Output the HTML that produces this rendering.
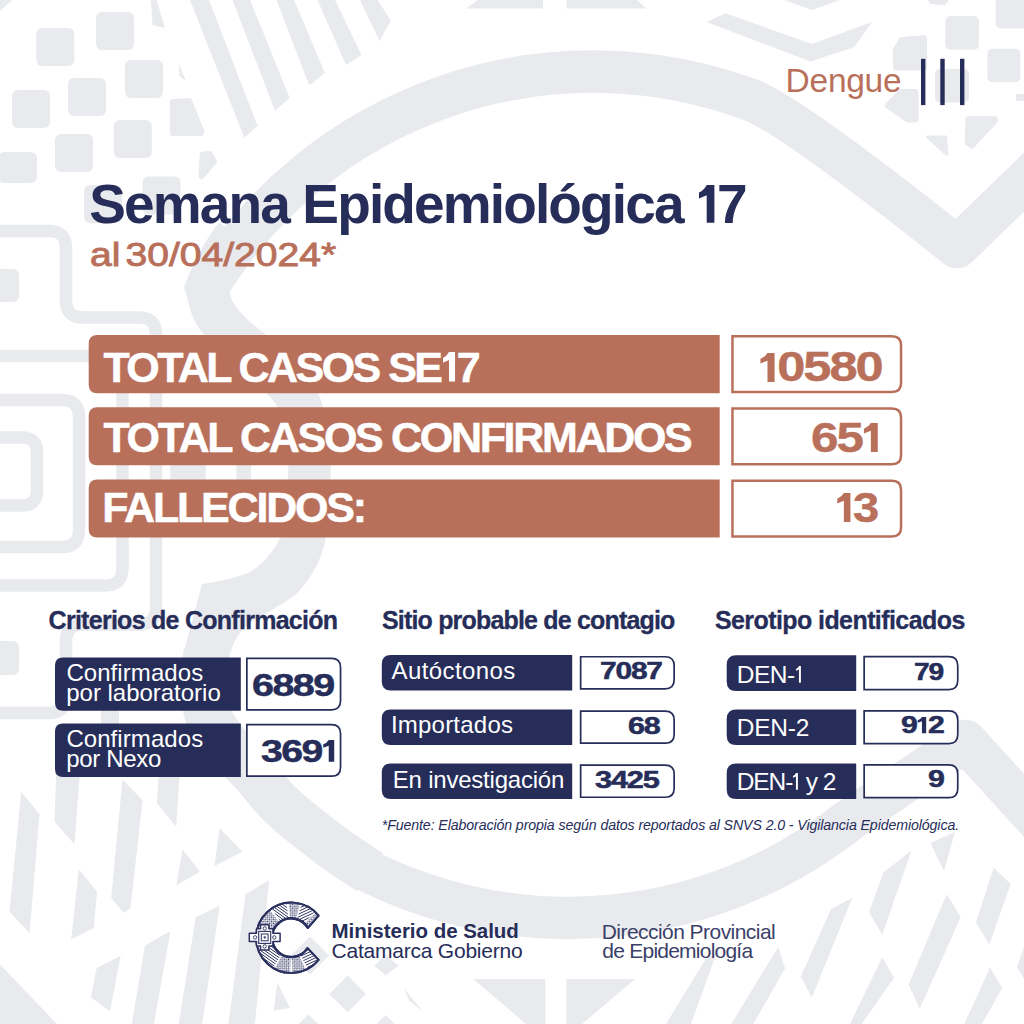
<!DOCTYPE html>
<html lang="es">
<head>
<meta charset="utf-8">
<title>Dengue - Semana Epidemiológica 17</title>
<style>
*{margin:0;padding:0;box-sizing:border-box;}
html,body{width:1024px;height:1024px;overflow:hidden;background:#fff;}
body{font-family:"Liberation Sans",sans-serif;position:relative;}
#bg{position:absolute;left:0;top:0;width:1024px;height:1024px;}
.t{position:absolute;white-space:nowrap;line-height:1;transform-origin:0 0;}
.navy{color:#262d59;}
.terra{color:#b9705b;}
#sub{-webkit-text-stroke:0.9px #b9705b;word-spacing:-5px;}
/* big bars */
.bart{font-weight:bold;color:#fff;font-size:41px;left:104px;-webkit-text-stroke:0.5px #fff;}
.barv{font-weight:bold;color:#b9705b;font-size:41px;-webkit-text-stroke:0.4px #b9705b;letter-spacing:-0.04em;}
/* small rows */
.h3{font-weight:bold;color:#262d59;font-size:22px;-webkit-text-stroke:0.3px #262d59;}
.lab{color:#fff;font-size:23px;}
.val{font-weight:bold;color:#262d59;-webkit-text-stroke:0.5px #262d59;letter-spacing:-0.04em;}
.o{margin:0 -0.07em 0 -0.09em;}
.g1{display:inline-block;height:0.688em;width:0.28em;margin:0 0.05em 0 0.05em;fill:currentColor;vertical-align:baseline;overflow:visible;}
.g1r{width:0.2em;margin:0 0.07em 0 0.04em;}
</style>
</head>
<body>
<svg id="bg" viewBox="0 0 1024 1024" width="1024" height="1024">
<g id="bgshapes" fill="#e9eaee" stroke="none">
<path d="M206.5,289 A452.4,452.4 0 0 1 751,100 Q790.6,115 957,247 L1050,157" fill="none" stroke="#e9eaee" stroke-width="42.5" stroke-linejoin="round" stroke-linecap="butt" stroke-miterlimit="10"/>
<path d="M236,235 Q216,262 206.5,288 C207.8,292.0 209.8,304.3 214.0,312.0 C218.2,319.7 222.3,324.7 232.0,334.0 C241.7,343.3 261.0,357.0 272.0,368.0 C283.0,379.0 292.0,388.0 298.0,400.0 C304.0,412.0 306.1,428.2 308.0,440.0 C309.9,451.8 309.7,460.2 309.5,471.0 C309.3,481.8 308.1,492.7 307.0,505.0 C305.9,517.3 303.7,538.3 303.0,545.0" fill="none" stroke="#e9eaee" stroke-width="42.5" stroke-linejoin="miter" stroke-linecap="butt" stroke-miterlimit="10"/>
<path d="M281,536 C275,550 262,566 248,573 C236,578 215,582 202,584 L183,655 L228,662 C231,648 236,636 244,628 C262,612 285,606 300,590 C312,576 322,560 326,536 Z"/>
<path d="M206.5,650.0 C206.2,656.7 204.7,678.8 205.0,690.0 C205.3,701.2 204.3,707.3 208.5,717.0 C212.7,726.7 222.0,738.0 230.0,748.0 C238.0,758.0 247.7,767.2 256.5,777.0 C265.3,786.8 270.4,795.4 283.0,807.0 C295.6,818.6 317.5,835.6 332.0,846.5 C346.5,857.4 363.7,867.9 370.0,872.2" fill="none" stroke="#e9eaee" stroke-width="46" stroke-linejoin="round" stroke-linecap="butt" stroke-miterlimit="10"/>
<path d="M332,846.5 L370,872.2 A452.4,452.4 0 0 0 850,819.5 L965.5,741 L1050,834" fill="none" stroke="#e9eaee" stroke-width="42.5" stroke-linejoin="round" stroke-linecap="butt" stroke-miterlimit="10"/>
<rect x="36.3" y="28.0" width="38.0" height="38.0" rx="6"/>
<rect x="96.0" y="12.0" width="38.0" height="38.0" rx="6"/>
<rect x="12.0" y="90.0" width="38.0" height="38.0" rx="6"/>
<rect x="68.0" y="78.0" width="38.0" height="38.0" rx="6"/>
<rect x="125.0" y="60.0" width="38.0" height="38.0" rx="6"/>
<rect x="55.0" y="134.0" width="38.0" height="38.0" rx="6"/>
<rect x="113.8" y="120.0" width="38.0" height="38.0" rx="6"/>
<rect x="142.5" y="176.5" width="38.0" height="38.0" rx="6"/>
<rect x="84.0" y="185.0" width="38.0" height="38.0" rx="6"/>
<rect x="-2.0" y="152.0" width="39.0" height="31.0" rx="6"/>
<rect x="-20.0" y="269.0" width="39.0" height="33.0" rx="6"/>
<rect x="-20.0" y="641.0" width="39.0" height="34.0" rx="6"/>
<polygon points="173.0,101.9 189.0,101.1 201.3,131.2 200.8,133.0 173.0,133.0" stroke="#e9eaee" stroke-width="6" stroke-linejoin="round"/>
<polygon points="202.8,154.4 209.8,154.1 213.9,161.6 201.5,176.2" stroke="#e9eaee" stroke-width="6" stroke-linejoin="round"/>
<polygon points="151.0,0.0 156.5,0.0 165.0,28.0 152.5,25.0"/>
<polygon points="179.0,64.0 186.0,81.0 179.5,76.0"/>
<polygon points="0.0,0.0 12.0,0.0 0.0,11.0"/>
<polygon points="190.0,0.0 209.0,0.0 257.5,126.0 244.3,137.7"/>
<polygon points="232.5,0.0 250.0,0.0 289.7,98.0 275.0,110.7"/>
<polygon points="276.5,0.0 294.0,0.0 324.8,73.0 309.3,85.5"/>
<polygon points="317.5,0.0 335.0,0.0 361.5,55.0 346.0,65.0"/>
<polygon points="360.0,0.0 377.6,0.0 390.8,20.5 379.6,41.0"/>
<polygon points="478.0,0.0 543.0,0.0 543.0,8.6 466.0,8.6"/>
<polygon points="566.5,0.0 637.0,0.0 646.5,8.6 566.5,8.6"/>
<polygon points="725.5,13.2 812.0,44.0 872.0,22.0 854.4,46.9 810.5,61.5 706.4,22.0"/>
<polygon points="784.0,0.0 840.0,0.0 812.0,10.0"/>
<polygon points="928.0,0.0 949.0,0.0 945.0,5.0 930.0,4.0"/>
<rect x="945.4" y="16.0" width="33.5" height="33.7" rx="5"/>
<rect x="995.8" y="-6.0" width="34.0" height="34.5" rx="5"/>
<rect x="987.4" y="48.7" width="33.0" height="33.6" rx="5"/>
<rect x="935.0" y="69.0" width="34.0" height="33.5" rx="5"/>
<polygon points="901.8,39.9 924.0,38.2 924.0,67.5 896.0,67.5 896.0,49.8" stroke="#e9eaee" stroke-width="6" stroke-linejoin="round"/>
<polygon points="901.2,92.0 915.5,92.0 915.5,119.6 907.9,119.6 887.7,105.6" stroke="#e9eaee" stroke-width="6" stroke-linejoin="round"/>
<polygon points="968.4,119.0 994.9,119.0 995.2,120.1 971.7,145.6 967.8,142.9" stroke="#e9eaee" stroke-width="6" stroke-linejoin="round"/>
<polygon points="927.4,136.9 945.6,136.9 946.9,154.4" stroke="#e9eaee" stroke-width="3.0" stroke-linejoin="round"/>
<polygon points="1016.0,94.0 1024.0,94.0 1024.0,101.0 1016.0,101.0"/>
<path d="M-20,437.5 H22 Q37,437.5 37,452.5 V490.5 Q37,505.5 22,505.5 H-20" fill="none" stroke="#e9eaee" stroke-width="12.5" stroke-linejoin="round" stroke-linecap="butt" stroke-miterlimit="10"/>
<path d="M-20,400 H62 Q79,400 79,417 V530 Q79,547 62,547 H-20" fill="none" stroke="#e9eaee" stroke-width="12.5" stroke-linejoin="round" stroke-linecap="butt" stroke-miterlimit="10"/>
<path d="M-20,356 H105 Q122.5,356 122.5,373.5 V568 Q122.5,585.6 105,585.6 H-20" fill="none" stroke="#e9eaee" stroke-width="12.5" stroke-linejoin="round" stroke-linecap="butt" stroke-miterlimit="10"/>
<path d="M-20,231 H49 Q66,231 66,248 V300.5 Q66,317.5 83,317.5 H139 Q156,317.5 156,334.5 V607.5 Q156,624.5 139,624.5 H83 Q66,624.5 66,641.5 V696 Q66,713 49,713 H-20" fill="none" stroke="#e9eaee" stroke-width="12.5" stroke-linejoin="round" stroke-linecap="butt" stroke-miterlimit="10"/>
<rect x="170.4" y="460" width="35.2" height="24"/>
<rect x="236.4" y="460" width="14.6" height="24"/>
<rect x="101" y="709" width="18" height="16"/>
<polygon points="21.2,791.8 39.5,814.2 29.5,933.0 9.5,911.8"/>
<polygon points="56.2,770.0 80.0,770.0 74.5,844.2 54.5,821.8"/>
<polygon points="78.8,869.2 97.0,891.8 93.8,928.0 71.2,939.2"/>
<polygon points="122.5,779.2 142.5,800.5 130.5,908.0 123.8,913.0 111.2,898.0"/>
<polygon points="158.8,770.0 180.0,770.0 176.2,826.8 157.0,803.0"/>
<polygon points="182.5,849.2 200.0,871.8 176.2,885.5"/>
<polygon points="219.5,828.0 242.5,851.8 214.5,866.0"/>
<polygon points="0.0,964.6 57.0,1024.0 0.0,1024.0"/>
<polygon points="96.7,968.0 120.7,955.8 109.9,1011.5 90.8,996.9"/>
<polygon points="145.0,945.6 170.5,931.0 153.8,1024.0 131.8,1024.0"/>
<polygon points="195.7,917.2 219.7,905.4 202.2,1024.0 178.7,1024.0"/>
<polygon points="245.5,894.3 269.0,880.3 254.9,1024.0 228.5,1024.0"/>
<polygon points="277.3,982.6 290.0,1008.0 273.7,1010.8"/>
<polygon points="347.6,975.6 365.9,993.9 347.6,1012.2 329.4,993.9"/>
<polygon points="310.0,936.5 329.0,955.5 310.0,974.5 291.0,955.5"/>
<polygon points="385.6,954.5 398.3,965.8 385.6,975.6 374.4,965.8"/>
<polygon points="308.3,1014.4 318.0,1024.0 298.6,1024.0"/>
<polygon points="385.6,1015.0 394.6,1024.0 376.6,1024.0"/>
<polygon points="403.9,988.3 423.6,1012.2 409.5,1001.0"/>
<polygon points="473.2,978.9 545.3,978.9 545.3,1024.0 526.0,1024.0"/>
<polygon points="566.4,978.9 635.0,978.9 582.0,1024.0 566.4,1024.0"/>
<polygon points="705.0,960.0 716.5,953.0 691.0,1024.0 666.0,1024.0"/>
<polygon points="778.2,947.0 785.0,968.2 753.3,1024.0 731.3,1024.0"/>
<polygon points="852.3,897.8 831.0,909.0 800.8,976.4 811.9,997.5"/>
<polygon points="911.5,850.4 883.7,872.3 869.0,911.9 882.2,934.8"/>
<polygon points="882.2,957.3 894.0,977.8 861.7,1024.0 850.0,1024.0"/>
<polygon points="946.7,894.3 960.7,917.2 919.7,1008.6 908.6,984.6"/>
<polygon points="993.6,867.4 1010.6,884.0 989.2,944.7 976.0,922.2"/>
<polygon points="930.5,843.0 955.0,832.0 944.0,871.0"/>
<polygon points="990.0,967.6 1002.3,988.0 981.8,1024.0 964.3,1024.0"/>
<polygon points="1024.0,947.0 1017.0,967.6 1024.0,979.0"/>
</g>
</svg>

<svg id="boxes" viewBox="0 0 1024 1024" width="1024" height="1024" style="position:absolute;left:0;top:0;">
<path d="M97.2,335 H719.7 V393.2 H97.2 Q88.7,393.2 88.7,384.7 V343.5 Q88.7,335 97.2,335 Z" fill="#b9705b"/>
<path d="M732.45,336.35 H892.05 Q901.05,336.35 901.05,345.35 V383.05 Q901.05,392.05 892.05,392.05 H732.45 Z" fill="#fff" stroke="#b9705b" stroke-width="2.5"/>
<path d="M97.2,407.2 H719.7 V465.3 H97.2 Q88.7,465.3 88.7,456.8 V415.7 Q88.7,407.2 97.2,407.2 Z" fill="#b9705b"/>
<path d="M732.45,408.55 H892.05 Q901.05,408.55 901.05,417.55 V455.15000000000003 Q901.05,464.15000000000003 892.05,464.15000000000003 H732.45 Z" fill="#fff" stroke="#b9705b" stroke-width="2.5"/>
<path d="M97.2,479.5 H719.7 V537.6 H97.2 Q88.7,537.6 88.7,529.1 V488.0 Q88.7,479.5 97.2,479.5 Z" fill="#b9705b"/>
<path d="M732.45,480.85 H892.05 Q901.05,480.85 901.05,489.85 V527.45 Q901.05,536.45 892.05,536.45 H732.45 Z" fill="#fff" stroke="#b9705b" stroke-width="2.5"/>
<path d="M63,657.4 H240.8 V710.7 H63 Q55,710.7 55,702.7 V665.4 Q55,657.4 63,657.4 Z" fill="#262d59"/>
<path d="M246.85,658.45 H331.54999999999995 Q340.54999999999995,658.45 340.54999999999995,667.45 V700.85 Q340.54999999999995,709.85 331.54999999999995,709.85 H246.85 Z" fill="#fff" stroke="#262d59" stroke-width="1.7"/>
<path d="M63,723.5 H240.8 V777 H63 Q55,777 55,769 V731.5 Q55,723.5 63,723.5 Z" fill="#262d59"/>
<path d="M246.85,724.5500000000001 H331.54999999999995 Q340.54999999999995,724.5500000000001 340.54999999999995,733.5500000000001 V767.15 Q340.54999999999995,776.15 331.54999999999995,776.15 H246.85 Z" fill="#fff" stroke="#262d59" stroke-width="1.7"/>
<path d="M390.8,655 H572.2 V690.6 H390.8 Q381.8,690.6 381.8,681.6 V664 Q381.8,655 390.8,655 Z" fill="#262d59"/>
<path d="M580.65,656.75 H665.15 Q674.15,656.75 674.15,665.75 V679.85 Q674.15,688.85 665.15,688.85 H580.65 Z" fill="#fff" stroke="#262d59" stroke-width="1.7"/>
<path d="M390.8,709.4 H572.2 V744.9 H390.8 Q381.8,744.9 381.8,735.9 V718.4 Q381.8,709.4 390.8,709.4 Z" fill="#262d59"/>
<path d="M580.65,711.15 H665.15 Q674.15,711.15 674.15,720.15 V734.15 Q674.15,743.15 665.15,743.15 H580.65 Z" fill="#fff" stroke="#262d59" stroke-width="1.7"/>
<path d="M390.8,763.4 H572.2 V799 H390.8 Q381.8,799 381.8,790 V772.4 Q381.8,763.4 390.8,763.4 Z" fill="#262d59"/>
<path d="M580.65,765.15 H665.15 Q674.15,765.15 674.15,774.15 V788.25 Q674.15,797.25 665.15,797.25 H580.65 Z" fill="#fff" stroke="#262d59" stroke-width="1.7"/>
<path d="M736.2,655.3 H856.2 V691 H736.2 Q726.7,691 726.7,681.5 V664.8 Q726.7,655.3 736.2,655.3 Z" fill="#262d59"/>
<path d="M864.15,656.65 H948.75 Q957.75,656.65 957.75,665.65 V680.55 Q957.75,689.55 948.75,689.55 H864.15 Z" fill="#fff" stroke="#262d59" stroke-width="1.7"/>
<path d="M736.2,709.5 H856.2 V745 H736.2 Q726.7,745 726.7,735.5 V719.0 Q726.7,709.5 736.2,709.5 Z" fill="#262d59"/>
<path d="M864.15,710.85 H948.75 Q957.75,710.85 957.75,719.85 V734.55 Q957.75,743.55 948.75,743.55 H864.15 Z" fill="#fff" stroke="#262d59" stroke-width="1.7"/>
<path d="M736.2,763.6 H856.2 V799.1 H736.2 Q726.7,799.1 726.7,789.6 V773.1 Q726.7,763.6 736.2,763.6 Z" fill="#262d59"/>
<path d="M864.15,764.95 H948.75 Q957.75,764.95 957.75,773.95 V788.65 Q957.75,797.65 948.75,797.65 H864.15 Z" fill="#fff" stroke="#262d59" stroke-width="1.7"/>
<rect x="921" y="58.8" width="4.4" height="46.3" fill="#262d59"/>
<rect x="940.3" y="58.8" width="4.4" height="46.3" fill="#262d59"/>
<rect x="960" y="58.8" width="4.4" height="46.3" fill="#262d59"/>
</svg>
<!-- header -->
<div class="t terra" id="dengue" style="left:785.61px;top:64.14px;font-size:33.5px;letter-spacing:-0.27px;">Dengue</div>

<div class="t navy" id="title" style="left:89.22px;top:177.23px;font-size:55.0px;letter-spacing:-1.87px;font-weight:bold;">Semana Epidemiológica <svg class="g1" viewBox="0 0 47 100" preserveAspectRatio="none"><path d="M23.5,0 H47 V100 H23.5 V27 L0,36 V19.5 Q16,14 23.5,0 Z"/></svg>7</div>
<div class="t terra" id="sub" style="left:89.87px;top:236.91px;font-size:34.0px;transform:scaleX(1.1487);">al 30/04/2024*</div>

<!-- big bars -->
<div class="t bart" id="b1" style="left:103.40px;top:345.89px;font-size:43.0px;letter-spacing:-2.55px;">TOTAL CASOS SE<svg class="g1" viewBox="0 0 47 100" preserveAspectRatio="none"><path d="M23.5,0 H47 V100 H23.5 V27 L0,36 V19.5 Q16,14 23.5,0 Z"/></svg>7</div>
<div class="t bart" id="b2" style="left:103.40px;top:415.99px;font-size:43.0px;letter-spacing:-2.31px;">TOTAL CASOS CONFIRMADOS</div>
<div class="t bart" id="b3" style="left:102.33px;top:485.59px;font-size:43.0px;letter-spacing:-2.18px;">FALLECIDOS:</div>
<div class="t barv" id="v1" style="left:757.63px;top:346.44px;font-size:42.0px;transform:scaleX(1.2052);"><svg class="g1" viewBox="0 0 47 100" preserveAspectRatio="none"><path d="M23.5,0 H47 V100 H23.5 V27 L0,36 V19.5 Q16,14 23.5,0 Z"/></svg>0580</div>
<div class="t barv" id="v2" style="left:810.92px;top:416.74px;font-size:42.0px;transform:scaleX(1.1765);">65<svg class="g1" viewBox="0 0 47 100" preserveAspectRatio="none"><path d="M23.5,0 H47 V100 H23.5 V27 L0,36 V19.5 Q16,14 23.5,0 Z"/></svg></div>
<div class="t barv" id="v3" style="left:834.85px;top:486.94px;font-size:42.0px;transform:scaleX(1.1221);"><svg class="g1" viewBox="0 0 47 100" preserveAspectRatio="none"><path d="M23.5,0 H47 V100 H23.5 V27 L0,36 V19.5 Q16,14 23.5,0 Z"/></svg>3</div>

<!-- column 1 -->
<div class="t h3" id="h1" style="left:48.58px;top:608.03px;font-size:25.0px;letter-spacing:-0.73px;">Criterios de Confirmación</div>
<div class="t lab" id="c1a" style="left:66.39px;top:660.88px;font-size:24.0px;letter-spacing:0.07px;">Confirmados</div>
<div class="t lab" id="c1b" style="left:66.26px;top:680.88px;font-size:24.0px;letter-spacing:-0.02px;">por laboratorio</div>
<div class="t lab" id="c2a" style="left:66.39px;top:726.88px;font-size:24.0px;letter-spacing:0.07px;">Confirmados</div>
<div class="t lab" id="c2b" style="left:66.26px;top:746.68px;font-size:24.0px;letter-spacing:-0.32px;">por Nexo</div>
<div class="t val" id="cv1" style="left:251.73px;top:669.53px;font-size:31.5px;transform:scaleX(1.2542);">6889</div>
<div class="t val" id="cv2" style="left:260.74px;top:735.73px;font-size:31.5px;transform:scaleX(1.2449);">369<svg class="g1" viewBox="0 0 47 100" preserveAspectRatio="none"><path d="M23.5,0 H47 V100 H23.5 V27 L0,36 V19.5 Q16,14 23.5,0 Z"/></svg></div>

<!-- column 2 -->
<div class="t h3" id="h2" style="left:381.95px;top:608.03px;font-size:25.0px;letter-spacing:-0.82px;">Sitio probable de contagio</div>
<div class="t lab" id="s1" style="left:391.58px;top:659.38px;font-size:24.0px;letter-spacing:0.41px;">Autóctonos</div>
<div class="t lab" id="s2" style="left:390.89px;top:713.38px;font-size:24.0px;letter-spacing:0.23px;">Importados</div>
<div class="t lab" id="s3" style="left:392.80px;top:767.68px;font-size:24.0px;letter-spacing:-0.22px;">En investigación</div>
<div class="t val" id="sv1" style="left:600.43px;top:660.40px;font-size:23.5px;transform:scaleX(1.2737);">7087</div>
<div class="t val" id="sv2" style="left:627.64px;top:714.90px;font-size:23.5px;transform:scaleX(1.2988);">68</div>
<div class="t val" id="sv3" style="left:595.24px;top:769.30px;font-size:23.5px;transform:scaleX(1.3094);">3425</div>

<!-- column 3 -->
<div class="t h3" id="h3" style="left:714.95px;top:608.03px;font-size:25.0px;letter-spacing:-0.58px;">Serotipo identificados</div>
<div class="t lab" id="d1" style="left:736.67px;top:662.86px;font-size:24.5px;letter-spacing:-0.47px;">DEN-<svg class="g1 g1r" viewBox="0 0 30 100" preserveAspectRatio="none"><path d="M18.5,0 H30 V100 H18 V21 L0,27.5 V17.5 Q13,12 18.5,0 Z"/></svg></div>
<div class="t lab" id="d2" style="left:736.67px;top:716.46px;font-size:24.5px;letter-spacing:-0.19px;">DEN-2</div>
<div class="t lab" id="d3" style="left:736.67px;top:770.06px;font-size:24.5px;letter-spacing:-1.04px;">DEN-<svg class="g1 g1r" viewBox="0 0 30 100" preserveAspectRatio="none"><path d="M18.5,0 H30 V100 H18 V21 L0,27.5 V17.5 Q13,12 18.5,0 Z"/></svg> y 2</div>
<div class="t val" id="dv1" style="left:914.25px;top:660.70px;font-size:23.5px;transform:scaleX(1.1987);">79</div>
<div class="t val" id="dv2" style="left:901.40px;top:714.30px;font-size:23.5px;transform:scaleX(1.2861);">9<svg class="g1" viewBox="0 0 47 100" preserveAspectRatio="none"><path d="M23.5,0 H47 V100 H23.5 V27 L0,36 V19.5 Q16,14 23.5,0 Z"/></svg>2</div>
<div class="t val" id="dv3" style="left:927.51px;top:768.00px;font-size:23.5px;transform:scaleX(1.2926);">9</div>

<div class="t navy" id="fn" style="left:381.73px;top:817.88px;font-size:14.2px;letter-spacing:-0.11px;font-style:italic;">*Fuente: Elaboración propia según datos reportados al SNVS 2.0 - Vigilancia Epidemiológica.</div>

<!-- footer -->
<svg id="logo" viewBox="0 0 1024 1024" width="1024" height="1024" style="position:absolute;left:0;top:0;">
<defs><clipPath id="cb"><path d="M318.63,915.51 A35.2,35.2 0 1 0 318.63,959.89 L307.56,948.10 A19.3,19.3 0 1 1 307.95,927.94 Z"/></clipPath>
<pattern id="ph" width="2.4" height="2.4" patternUnits="userSpaceOnUse" patternTransform="rotate(35)"><rect width="2.4" height="0.8" fill="#2a305f"/></pattern>
<pattern id="pd" width="3" height="3" patternUnits="userSpaceOnUse" patternTransform="rotate(45)"><rect width="1.3" height="1.3" fill="#2a305f"/><rect x="1.5" y="1.5" width="1.3" height="1.3" fill="#2a305f"/></pattern>
<pattern id="pw" width="2.6" height="2.6" patternUnits="userSpaceOnUse" patternTransform="rotate(-25)"><rect width="2.6" height="0.85" fill="#2a305f"/></pattern>
</defs>
<path d="M318.63,915.51 A35.2,35.2 0 1 0 318.63,959.89 L307.56,948.10 A19.3,19.3 0 1 1 307.95,927.94 Z" fill="#fff" stroke="#2a305f" stroke-width="1.9" stroke-linejoin="round"/>
<path clip-path="url(#cb)" d="M291.3,937.7 L234.2,919.2 A60,60 0 0 1 254.4,890.4 Z" fill="url(#pd)" opacity="1"/>
<path clip-path="url(#cb)" d="M291.3,937.7 L257.7,888.0 A60,60 0 0 1 282.9,878.3 Z" fill="url(#ph)" opacity="1"/>
<path clip-path="url(#cb)" d="M291.3,937.7 L287.1,877.8 A60,60 0 0 1 305.8,879.5 Z" fill="url(#pd)" opacity="1"/>
<path clip-path="url(#cb)" d="M291.3,937.7 L308.8,880.3 A60,60 0 0 1 331.4,893.1 Z" fill="url(#pw)" opacity="1"/>
<path clip-path="url(#cb)" d="M291.3,937.7 L333.0,894.5 A60,60 0 0 1 342.2,905.9 Z" fill="url(#pd)" opacity="1"/>
<path clip-path="url(#cb)" d="M291.3,937.7 L342.2,969.5 A60,60 0 0 1 319.5,990.7 Z" fill="url(#pw)" opacity="1"/>
<path clip-path="url(#cb)" d="M291.3,937.7 L315.7,992.5 A60,60 0 0 1 293.4,997.7 Z" fill="url(#pd)" opacity="1"/>
<path clip-path="url(#cb)" d="M291.3,937.7 L289.2,997.7 A60,60 0 0 1 263.1,990.7 Z" fill="url(#pd)" opacity="1"/>
<path clip-path="url(#cb)" d="M291.3,937.7 L260.4,989.1 A60,60 0 0 1 234.9,958.2 Z" fill="url(#ph)" opacity="1"/>
<path d="M307.95,927.94 A19.3,19.3 0 1 0 307.56,948.10" fill="none" stroke="#2a305f" stroke-width="2.5"/>
<path d="M318.63,915.51 A35.2,35.2 0 1 0 318.63,959.89 L307.56,948.10 A19.3,19.3 0 1 1 307.95,927.94 Z" fill="none" stroke="#2a305f" stroke-width="1.9" stroke-linejoin="round"/>
<path d="M260.5,924.8 h8.4 v4 h4 v4.4 h7.2 v8.4 h-7.2 v4.4 h-4 v4 h-8.4 v-4 h-4 v-4.4 h-7.2 v-8.4 h7.2 v-4.4 h4 Z" fill="#fff" stroke="#2a305f" stroke-width="1.5" stroke-linejoin="round"/>
<rect x="258.7" y="931.4" width="12" height="12" fill="none" stroke="#2a305f" stroke-width="1.1"/>
<rect x="261.3" y="934.0" width="6.8" height="6.8" fill="none" stroke="#2a305f" stroke-width="1"/>
<rect x="263.7" y="936.4" width="2" height="2" fill="#2a305f"/>
<circle cx="264.7" cy="928.4" r="1.7" fill="#fff" stroke="#2a305f" stroke-width="0.9"/>
<circle cx="264.7" cy="946.4" r="1.7" fill="#fff" stroke="#2a305f" stroke-width="0.9"/>
<circle cx="255.1" cy="937.4" r="1.7" fill="#fff" stroke="#2a305f" stroke-width="0.9"/>
<circle cx="274.3" cy="937.4" r="1.7" fill="#fff" stroke="#2a305f" stroke-width="0.9"/>
</svg>
<div class="t navy" id="f1" style="left:331.47px;top:921.04px;font-size:20.5px;letter-spacing:-0.03px;font-weight:bold;">Ministerio de Salud</div>
<div class="t navy" id="f2" style="left:331.50px;top:939.72px;font-size:21.0px;letter-spacing:-0.22px;">Catamarca Gobierno</div>
<div class="t" id="f3" style="left:601.76px;top:920.92px;font-size:21.0px;letter-spacing:-0.55px;color:#3a4168;">Dirección Provincial</div>
<div class="t" id="f4" style="left:602.37px;top:940.22px;font-size:21.0px;letter-spacing:-0.77px;color:#3a4168;">de Epidemiología</div>
</body>
</html>
